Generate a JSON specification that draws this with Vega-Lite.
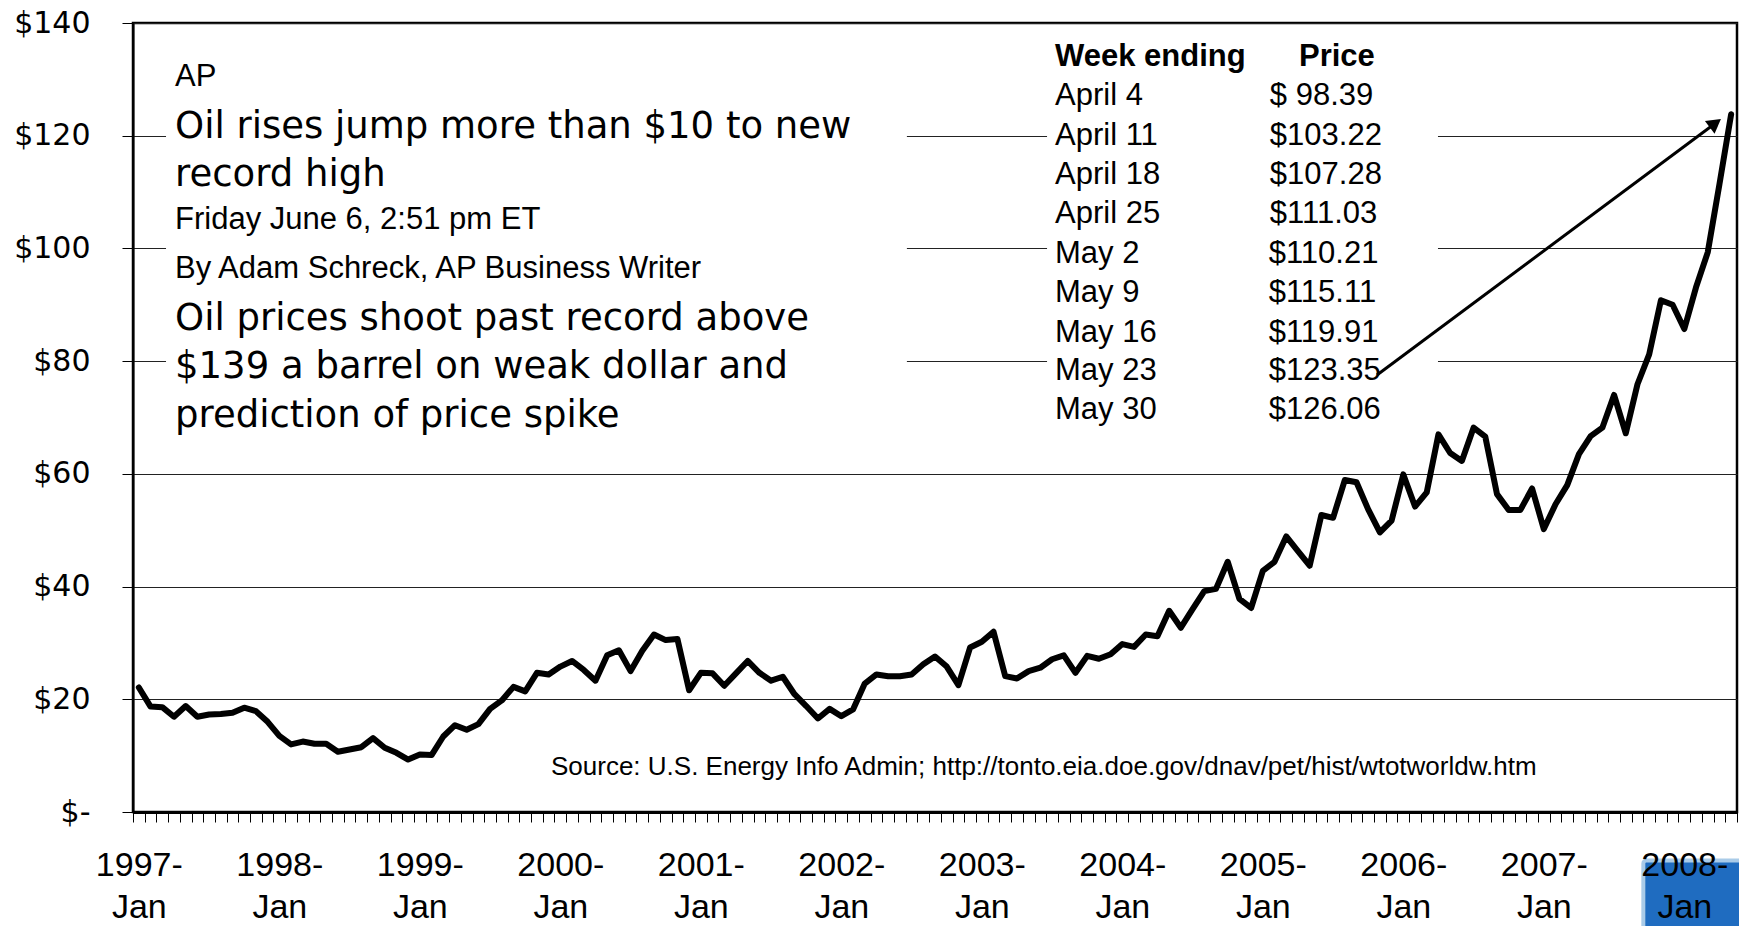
{
  "$schema": "https://vega.github.io/schema/vega-lite/v6.json",
  "width": 1604,
  "height": 789,
  "autosize": {"type": "none"},
  "padding": {"left": 133, "top": 23, "right": 2, "bottom": 114},
  "background": "white",
  "config": {
    "view": {"stroke": "#000", "strokeWidth": 2.5},
    "font": "DejaVu Sans",
    "axisY": {
      "labelFont": "DejaVu Sans", "labelFontSize": 30, "labelColor": "#000", "labelPadding": 32,
      "tickSize": 11, "tickColor": "#000", "tickWidth": 1, "domainColor": "#000", "domainWidth": 2,
      "grid": true, "gridColor": "#222", "gridWidth": 1, "labelFlush": false, "labelBound": false
    }
  },
  "datasets": {
    "prices": [
      {"month":"1997-01","price":22.1},{"month":"1997-02","price":18.7},{"month":"1997-03","price":18.6},{"month":"1997-04","price":16.9},{"month":"1997-05","price":18.8},{"month":"1997-06","price":16.9},{"month":"1997-07","price":17.3},{"month":"1997-08","price":17.4},{"month":"1997-09","price":17.6},{"month":"1997-10","price":18.5},{"month":"1997-11","price":17.9},{"month":"1997-12","price":16.0},
      {"month":"1998-01","price":13.5},{"month":"1998-02","price":12.0},{"month":"1998-03","price":12.5},{"month":"1998-04","price":12.1},{"month":"1998-05","price":12.1},{"month":"1998-06","price":10.7},{"month":"1998-07","price":11.1},{"month":"1998-08","price":11.5},{"month":"1998-09","price":13.1},{"month":"1998-10","price":11.4},{"month":"1998-11","price":10.5},{"month":"1998-12","price":9.3},
      {"month":"1999-01","price":10.2},{"month":"1999-02","price":10.1},{"month":"1999-03","price":13.4},{"month":"1999-04","price":15.4},{"month":"1999-05","price":14.6},{"month":"1999-06","price":15.6},{"month":"1999-07","price":18.3},{"month":"1999-08","price":19.8},{"month":"1999-09","price":22.2},{"month":"1999-10","price":21.4},{"month":"1999-11","price":24.7},{"month":"1999-12","price":24.4},
      {"month":"2000-01","price":25.8},{"month":"2000-02","price":26.8},{"month":"2000-03","price":25.2},{"month":"2000-04","price":23.3},{"month":"2000-05","price":27.8},{"month":"2000-06","price":28.7},{"month":"2000-07","price":25.0},{"month":"2000-08","price":28.6},{"month":"2000-09","price":31.5},{"month":"2000-10","price":30.5},{"month":"2000-11","price":30.7},{"month":"2000-12","price":21.6},
      {"month":"2001-01","price":24.7},{"month":"2001-02","price":24.6},{"month":"2001-03","price":22.4},{"month":"2001-04","price":24.6},{"month":"2001-05","price":26.8},{"month":"2001-06","price":24.7},{"month":"2001-07","price":23.3},{"month":"2001-08","price":24.0},{"month":"2001-09","price":20.9},{"month":"2001-10","price":18.8},{"month":"2001-11","price":16.6},{"month":"2001-12","price":18.3},
      {"month":"2002-01","price":17.0},{"month":"2002-02","price":18.2},{"month":"2002-03","price":22.8},{"month":"2002-04","price":24.4},{"month":"2002-05","price":24.1},{"month":"2002-06","price":24.1},{"month":"2002-07","price":24.4},{"month":"2002-08","price":26.2},{"month":"2002-09","price":27.6},{"month":"2002-10","price":25.8},{"month":"2002-11","price":22.5},{"month":"2002-12","price":29.2},
      {"month":"2003-01","price":30.2},{"month":"2003-02","price":32.0},{"month":"2003-03","price":24.1},{"month":"2003-04","price":23.7},{"month":"2003-05","price":25.0},{"month":"2003-06","price":25.6},{"month":"2003-07","price":27.1},{"month":"2003-08","price":27.8},{"month":"2003-09","price":24.7},{"month":"2003-10","price":27.7},{"month":"2003-11","price":27.2},{"month":"2003-12","price":28.0},
      {"month":"2004-01","price":29.8},{"month":"2004-02","price":29.3},{"month":"2004-03","price":31.5},{"month":"2004-04","price":31.2},{"month":"2004-05","price":35.7},{"month":"2004-06","price":32.7},{"month":"2004-07","price":36.0},{"month":"2004-08","price":39.2},{"month":"2004-09","price":39.6},{"month":"2004-10","price":44.4},{"month":"2004-11","price":37.8},{"month":"2004-12","price":36.2},
      {"month":"2005-01","price":42.8},{"month":"2005-02","price":44.4},{"month":"2005-03","price":48.9},{"month":"2005-04","price":46.3},{"month":"2005-05","price":43.7},{"month":"2005-06","price":52.7},{"month":"2005-07","price":52.2},{"month":"2005-08","price":58.9},{"month":"2005-09","price":58.5},{"month":"2005-10","price":53.7},{"month":"2005-11","price":49.6},{"month":"2005-12","price":51.7},
      {"month":"2006-01","price":59.9},{"month":"2006-02","price":54.2},{"month":"2006-03","price":56.7},{"month":"2006-04","price":67.0},{"month":"2006-05","price":63.7},{"month":"2006-06","price":62.3},{"month":"2006-07","price":68.2},{"month":"2006-08","price":66.6},{"month":"2006-09","price":56.4},{"month":"2006-10","price":53.6},{"month":"2006-11","price":53.6},{"month":"2006-12","price":57.4},
      {"month":"2007-01","price":50.2},{"month":"2007-02","price":54.6},{"month":"2007-03","price":58.0},{"month":"2007-04","price":63.5},{"month":"2007-05","price":66.7},{"month":"2007-06","price":68.2},{"month":"2007-07","price":74.0},{"month":"2007-08","price":67.2},{"month":"2007-09","price":75.9},{"month":"2007-10","price":81.2},{"month":"2007-11","price":90.8},{"month":"2007-12","price":90.0},
      {"month":"2008-01","price":85.7},{"month":"2008-02","price":93.1},{"month":"2008-03","price":99.3},{"month":"2008-04","price":111.4},{"month":"2008-05","price":123.8}
    ],
    "boxes": [
      {"x1": 2.82, "x2": 66.1, "y1": 136, "y2": 65},
      {"x1": 78.07, "x2": 111.46, "y1": 137.5, "y2": 67.2}
    ],
    "badge": [
      {"x1": 129.0, "x2": 137.6, "y1": -8.6, "y2": -21.0}
    ],
    "notes": [
      {"g": "small", "x": 3.59, "y": 128.8, "text": "AP"},
      {"g": "big", "x": 3.59, "y": 119.6, "text": "Oil rises jump more than $10 to new"},
      {"g": "big", "x": 3.59, "y": 111.1, "text": "record high"},
      {"g": "small", "x": 3.59, "y": 103.4, "text": "Friday June 6, 2:51 pm ET"},
      {"g": "small", "x": 3.59, "y": 94.8, "text": "By Adam Schreck, AP Business Writer"},
      {"g": "big", "x": 3.59, "y": 85.5, "text": "Oil prices shoot past record above"},
      {"g": "big", "x": 3.59, "y": 77.0, "text": "$139 a barrel on weak dollar and"},
      {"g": "big", "x": 3.59, "y": 68.3, "text": "prediction of price spike"},
      {"g": "head", "x": 78.75, "y": 132.3, "text": "Week ending"},
      {"g": "head", "x": 99.59, "y": 132.3, "text": "Price"},
      {"g": "small", "x": 78.75, "y": 125.45, "text": "April 4"},
      {"g": "small", "x": 78.75, "y": 118.35, "text": "April 11"},
      {"g": "small", "x": 78.75, "y": 111.43, "text": "April 18"},
      {"g": "small", "x": 78.75, "y": 104.51, "text": "April 25"},
      {"g": "small", "x": 78.75, "y": 97.41, "text": "May 2"},
      {"g": "small", "x": 78.75, "y": 90.49, "text": "May 9"},
      {"g": "small", "x": 78.75, "y": 83.4, "text": "May 16"},
      {"g": "small", "x": 78.75, "y": 76.65, "text": "May 23"},
      {"g": "small", "x": 78.75, "y": 69.73, "text": "May 30"},
      {"g": "small", "x": 97.1, "y": 125.45, "text": "$ 98.39"},
      {"g": "small", "x": 97.1, "y": 118.35, "text": "$103.22"},
      {"g": "small", "x": 97.1, "y": 111.43, "text": "$107.28"},
      {"g": "small", "x": 97.1, "y": 104.51, "text": "$111.03"},
      {"g": "small", "x": 97.0, "y": 97.41, "text": "$110.21"},
      {"g": "small", "x": 97.0, "y": 90.49, "text": "$115.11"},
      {"g": "small", "x": 97.0, "y": 83.4, "text": "$119.91"},
      {"g": "small", "x": 97.0, "y": 76.65, "text": "$123.35"},
      {"g": "small", "x": 97.0, "y": 69.73, "text": "$126.06"},
      {"g": "source", "x": 35.7, "y": 6.57, "text": "Source: U.S. Energy Info Admin; http://tonto.eia.doe.gov/dnav/pet/hist/wtotworldw.htm"}
    ],
    "arrow": [
      {"x1": 106.25, "y1": 77.54, "x2": 135.15, "y2": 122.22}
    ]
  },
  "layer": [
    {
      "data": {"name": "badge"},
      "mark": {"type": "rect", "fill": "#1f6cc0", "stroke": "#a9cbe8", "strokeWidth": 4, "cornerRadius": 3, "clip": false},
      "encoding": {
        "x": {"field": "x1", "type": "quantitative", "scale": {"domain": [0, 137], "nice": false, "zero": false}, "axis": null},
        "x2": {"field": "x2"},
        "y": {"field": "y1", "type": "quantitative", "scale": {"domain": [0, 140], "nice": false},
          "axis": {"title": null, "values": [0, 20, 40, 60, 80, 100, 120, 140], "labelExpr": "datum.value==0 ? '$-\u00a0\u00a0\u00a0\u00a0' : '$'+datum.value"}},
        "y2": {"field": "y2"}
      }
    },
    {
      "data": {"name": "boxes"},
      "mark": {"type": "rect", "fill": "white", "strokeWidth": 0},
      "encoding": {
        "x": {"field": "x1", "type": "quantitative", "scale": {"domain": [0, 137], "nice": false, "zero": false}, "axis": null},
        "x2": {"field": "x2"},
        "y": {"field": "y1", "type": "quantitative", "scale": {"domain": [0, 140], "nice": false},
          "axis": {"title": null, "values": [0, 20, 40, 60, 80, 100, 120, 140], "labelExpr": "datum.value==0 ? '$-\u00a0\u00a0\u00a0\u00a0' : '$'+datum.value"}},
        "y2": {"field": "y2"}
      }
    },
    {
      "data": {"name": "prices"},
      "mark": {"type": "line", "color": "#000", "strokeWidth": 6, "strokeJoin": "round", "strokeCap": "round"},
      "encoding": {
        "x": {
          "field": "month", "type": "ordinal", "bandPosition": 0.5,
          "scale": {"type": "band", "paddingInner": 0, "paddingOuter": 0},
          "axis": {
            "title": null, "tickBand": "extent", "tickSize": 10, "tickColor": "#000", "tickWidth": 1,
            "domainColor": "#000", "domainWidth": 3, "zindex": 1,
            "labelExpr": "substring(datum.value,5,7)=='01' ? [substring(datum.value,0,4)+'-','Jan'] : ''",
            "labelAngle": 0, "labelFont": "Liberation Sans", "labelFontSize": 34, "labelColor": "#000",
            "labelPadding": 26, "labelLineHeight": 42, "labelOverlap": false, "labelBound": false, "labelFlush": false
          }
        },
        "y": {
          "field": "price", "type": "quantitative",
          "scale": {"domain": [0, 140], "nice": false},
          "axis": {"title": null, "values": [0, 20, 40, 60, 80, 100, 120, 140], "labelExpr": "datum.value==0 ? '$-\u00a0\u00a0\u00a0\u00a0' : '$'+datum.value"}
        }
      }
    },
    {
      "data": {"name": "notes"},
      "transform": [{"filter": "datum.g=='big'"}],
      "mark": {"type": "text", "align": "left", "baseline": "alphabetic", "font": "DejaVu Sans", "fontSize": 37, "color": "#000"},
      "encoding": {
        "x": {"field": "x", "type": "quantitative", "scale": {"domain": [0, 137], "nice": false, "zero": false}, "axis": null},
        "y": {"field": "y", "type": "quantitative", "scale": {"domain": [0, 140], "nice": false},
          "axis": {"title": null, "values": [0, 20, 40, 60, 80, 100, 120, 140], "labelExpr": "datum.value==0 ? '$-\u00a0\u00a0\u00a0\u00a0' : '$'+datum.value"}},
        "text": {"field": "text"}
      }
    },
    {
      "data": {"name": "notes"},
      "transform": [{"filter": "datum.g=='small'"}],
      "mark": {"type": "text", "align": "left", "baseline": "alphabetic", "font": "Liberation Sans", "fontSize": 31, "color": "#000"},
      "encoding": {
        "x": {"field": "x", "type": "quantitative", "scale": {"domain": [0, 137], "nice": false, "zero": false}, "axis": null},
        "y": {"field": "y", "type": "quantitative", "scale": {"domain": [0, 140], "nice": false},
          "axis": {"title": null, "values": [0, 20, 40, 60, 80, 100, 120, 140], "labelExpr": "datum.value==0 ? '$-\u00a0\u00a0\u00a0\u00a0' : '$'+datum.value"}},
        "text": {"field": "text"}
      }
    },
    {
      "data": {"name": "notes"},
      "transform": [{"filter": "datum.g=='head'"}],
      "mark": {"type": "text", "align": "left", "baseline": "alphabetic", "font": "Liberation Sans", "fontSize": 31, "fontWeight": "bold", "color": "#000"},
      "encoding": {
        "x": {"field": "x", "type": "quantitative", "scale": {"domain": [0, 137], "nice": false, "zero": false}, "axis": null},
        "y": {"field": "y", "type": "quantitative", "scale": {"domain": [0, 140], "nice": false},
          "axis": {"title": null, "values": [0, 20, 40, 60, 80, 100, 120, 140], "labelExpr": "datum.value==0 ? '$-\u00a0\u00a0\u00a0\u00a0' : '$'+datum.value"}},
        "text": {"field": "text"}
      }
    },
    {
      "data": {"name": "notes"},
      "transform": [{"filter": "datum.g=='source'"}],
      "mark": {"type": "text", "align": "left", "baseline": "alphabetic", "font": "Liberation Sans", "fontSize": 26, "color": "#000"},
      "encoding": {
        "x": {"field": "x", "type": "quantitative", "scale": {"domain": [0, 137], "nice": false, "zero": false}, "axis": null},
        "y": {"field": "y", "type": "quantitative", "scale": {"domain": [0, 140], "nice": false},
          "axis": {"title": null, "values": [0, 20, 40, 60, 80, 100, 120, 140], "labelExpr": "datum.value==0 ? '$-\u00a0\u00a0\u00a0\u00a0' : '$'+datum.value"}},
        "text": {"field": "text"}
      }
    },
    {
      "data": {"name": "arrow"},
      "mark": {"type": "rule", "color": "#000", "strokeWidth": 3},
      "encoding": {
        "x": {"field": "x1", "type": "quantitative", "scale": {"domain": [0, 137], "nice": false, "zero": false}, "axis": null},
        "x2": {"field": "x2"},
        "y": {"field": "y1", "type": "quantitative", "scale": {"domain": [0, 140], "nice": false},
          "axis": {"title": null, "values": [0, 20, 40, 60, 80, 100, 120, 140], "labelExpr": "datum.value==0 ? '$-\u00a0\u00a0\u00a0\u00a0' : '$'+datum.value"}},
        "y2": {"field": "y2"}
      }
    },
    {
      "data": {"name": "arrow"},
      "mark": {"type": "point", "shape": "triangle-right", "filled": true, "color": "#000", "size": 260, "angle": -36.65, "opacity": 1},
      "encoding": {
        "x": {"field": "x2", "type": "quantitative", "scale": {"domain": [0, 137], "nice": false, "zero": false}, "axis": null},
        "y": {"field": "y2", "type": "quantitative", "scale": {"domain": [0, 140], "nice": false},
          "axis": {"title": null, "values": [0, 20, 40, 60, 80, 100, 120, 140], "labelExpr": "datum.value==0 ? '$-\u00a0\u00a0\u00a0\u00a0' : '$'+datum.value"}}
      }
    }
  ],
  "resolve": {"scale": {"x": "independent"}}
}
